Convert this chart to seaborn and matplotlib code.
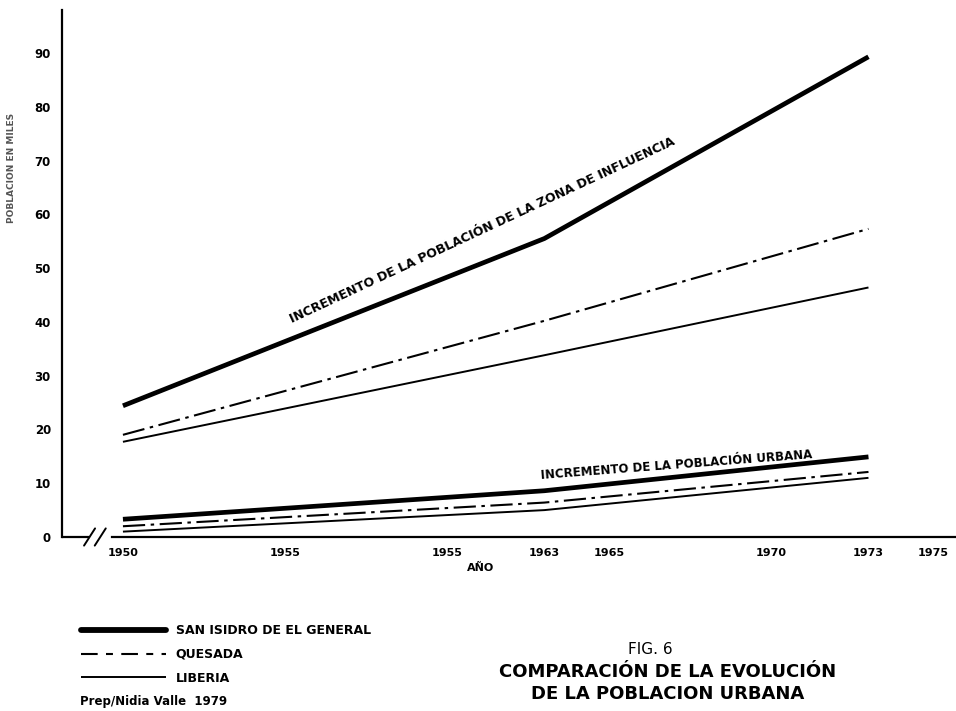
import matplotlib
matplotlib.use("Agg")
import matplotlib.pyplot as plt
import seaborn as sns
import pandas as pd
from matplotlib.lines import Line2D

# ---------------- data ----------------
years = [1950, 1963, 1973]
zona_san_isidro = [24.4, 55.5, 89.3]
zona_quesada = [19.0, 40.2, 57.3]
zona_liberia = [17.7, 33.8, 46.4]
urb_san_isidro = [3.3, 8.6, 14.9]
urb_quesada = [2.0, 6.4, 12.1]
urb_liberia = [1.0, 5.0, 11.0]

ciudades = ["SAN ISIDRO DE EL GENERAL", "QUESADA", "LIBERIA"]
xtick_pos = [1950, 1955, 1960, 1963, 1965, 1970, 1973, 1975]
xtick_labels = ["1950", "1955", "1955", "1963", "1965", "1970", "1973", "1975"]
ytick_pos = [0, 10, 20, 30, 40, 50, 60, 70, 80, 90]
ytick_labels = ["0", "10", "20", "30", "40", "50", "60", "70", "80", "90"]

# ---------------- style ----------------
sns.set_style("white")
plt.rcParams["font.family"] = ["DejaVu Sans"]
plt.rcParams["lines.scale_dashes"] = False
plt.rcParams["text.color"] = "black"
plt.rcParams["axes.labelcolor"] = "black"

styles = {
    "SAN ISIDRO DE EL GENERAL": dict(lw=3.4, ls="-"),
    "QUESADA": dict(lw=1.5, ls=(0, (16, 4, 2.5, 4))),
    "LIBERIA": dict(lw=1.4, ls="-"),
}

rows = []
for grupo, series in (("zona", [zona_san_isidro, zona_quesada, zona_liberia]),
                      ("urbana", [urb_san_isidro, urb_quesada, urb_liberia])):
    for c, vals in zip(ciudades, series):
        for y, v in zip(years, vals):
            rows.append(dict(grupo=grupo, ciudad=c, anio=y, valor=v))
df = pd.DataFrame(rows)

fig = plt.figure(figsize=(9.56, 7.11), dpi=100)
ax = fig.add_axes([62 / 956, 1 - 537 / 711, 1 - 62 / 956, (537 - 10) / 711])

for (grupo, ciudad), sub in df.groupby(["grupo", "ciudad"], sort=False):
    st = styles[ciudad]
    sns.lineplot(data=sub, x="anio", y="valor", ax=ax, color="black",
                 linewidth=st["lw"], linestyle=st["ls"],
                 solid_capstyle="butt", dash_capstyle="butt")

xmin, xmax = 1948.12, 1975.7
ax.set_xlim(xmin, xmax)
ax.set_ylim(0, 98)

# spines
for s in ("top", "right"):
    ax.spines[s].set_visible(False)
ax.spines["left"].set_linewidth(1.6)
ax.spines["left"].set_color("black")
ax.spines["bottom"].set_linewidth(1.6)
ax.spines["bottom"].set_color("black")
ax.spines["bottom"].set_bounds(1949.65, xmax)
# axis break decoration
ax.plot([xmin, 1948.95], [0, 0], color="black", lw=1.6, clip_on=False)
for xc in (1948.97, 1949.3):
    ax.plot([xc - 0.17, xc + 0.17], [-1.6, 1.6], color="black", lw=1.4, clip_on=False)

ax.set_xticks(xtick_pos)
ax.set_xticklabels(xtick_labels)
ax.set_yticks(ytick_pos)
ax.set_yticklabels(ytick_labels)
ax.tick_params(axis="x", direction="in", length=6, width=1.4, pad=8,
               labelsize=8, color="black", labelcolor="black")
ax.tick_params(axis="y", direction="out", length=6, width=1.4, pad=2,
               labelsize=8.5, color="black", labelcolor="black")
for lab in ax.get_xticklabels() + ax.get_yticklabels():
    lab.set_fontweight("bold")

ax.set_xlabel("AÑO", fontsize=8, fontweight="bold", color="black")
ax.xaxis.set_label_coords(0.468, -0.05)
ax.set_ylabel("POBLACION EN MILES", fontsize=6.5, fontweight="bold", color="#555555")
ax.yaxis.set_label_coords(-0.052, 0.70)

# in-plot annotations
ax.text(1955.25, 39.3, "INCREMENTO DE LA POBLACIÓN DE LA ZONA DE INFLUENCIA",
        rotation=25, rotation_mode="anchor", fontsize=9, fontweight="bold",
        ha="left", va="bottom", color="black")
ax.text(1962.9, 10.3, "INCREMENTO DE LA POBLACIÓN URBANA",
        rotation=4.4, rotation_mode="anchor", fontsize=8.5, fontweight="bold",
        ha="left", va="bottom", color="black")

# legend
handles = [Line2D([], [], color="black", lw=styles[c]["lw"] + (0.8 if c.startswith("SAN") else 0),
                  ls=(0, (12, 6, 5, 6)) if c == "QUESADA" else "-",
                  solid_capstyle="round" if c.startswith("SAN") else "butt")
           for c in ciudades]
leg = fig.legend(handles, ciudades, loc="upper left", bbox_to_anchor=(70 / 956, 1 - 613 / 711),
                 frameon=False, handlelength=6.8, handletextpad=0.75,
                 labelspacing=0.85, prop=dict(size=9, weight="bold"))
for t in leg.get_texts():
    t.set_color("black")

fig.text(80 / 956, 1 - 702 / 711, "Prep/Nidia Valle  1979", fontsize=8.5,
         fontweight="bold", ha="left", va="center", color="black")

fig.text(650 / 956, 1 - 649 / 711, "FIG. 6", fontsize=11, ha="center", va="center", color="black")
fig.text(668 / 956, 1 - 672 / 711, "COMPARACIÓN DE LA EVOLUCIÓN", fontsize=13,
         fontweight="bold", ha="center", va="center", color="black")
fig.text(668 / 956, 1 - 694 / 711, "DE LA POBLACION URBANA", fontsize=13,
         fontweight="bold", ha="center", va="center", color="black")

fig.savefig("out.png", dpi=100, facecolor="white")
